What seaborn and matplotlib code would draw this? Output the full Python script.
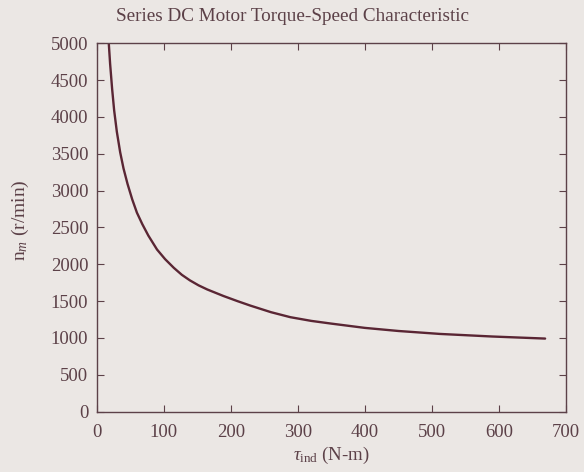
import matplotlib
matplotlib.use("Agg")
import matplotlib.pyplot as plt
import seaborn as sns
import pandas as pd

# Induced torque (N-m) and shaft speed (r/min) of the series DC motor
torque = [18, 20, 23, 26, 30, 35, 40, 46, 53, 60, 68, 77, 90, 102, 115, 127,
          139, 152, 165, 189, 210, 229, 260, 289, 320, 350, 400, 450, 512,
          590, 669]
speed = [5000, 4720, 4380, 4090, 3800, 3520, 3300, 3090, 2880, 2700, 2545,
         2390, 2200, 2070, 1952, 1857, 1782, 1714, 1658, 1570, 1500, 1440,
         1350, 1282, 1232, 1195, 1137, 1095, 1055, 1020, 992]

x_ticks = [0, 100, 200, 300, 400, 500, 600, 700]
y_ticks = [0, 500, 1000, 1500, 2000, 2500, 3000, 3500, 4000, 4500, 5000]

bg = "#ebe7e4"
ink = "#5c4148"
line_color = "#5a2634"

sns.set_theme(style="ticks")
plt.rcParams["font.family"] = ["Liberation Serif", "DejaVu Serif"]
plt.rcParams["mathtext.fontset"] = "custom"
plt.rcParams["mathtext.rm"] = "Liberation Serif"
plt.rcParams["mathtext.it"] = "Liberation Serif:italic"

df = pd.DataFrame({"torque": torque, "speed": speed})

fig = plt.figure(figsize=(5.84, 4.72), dpi=100, facecolor=bg)
ax = fig.add_axes([0.1656, 0.1278, 0.8034, 0.7807], facecolor=bg)

sns.lineplot(data=df, x="torque", y="speed", sort=False, color=line_color,
             linewidth=1.7, ax=ax, solid_joinstyle="round")

ax.set_xlim(0, 700)
ax.set_ylim(0, 5000)
ax.set_xticks(x_ticks)
ax.set_yticks(y_ticks)
ax.tick_params(direction="in", length=5, width=0.8, top=True, right=True,
               colors=ink, labelsize=13.5)
ax.tick_params(axis="x", pad=9)
ax.tick_params(axis="y", pad=6)
for side in ax.spines.values():
    side.set_color(ink)
    side.set_linewidth(1.0)

ax.set_xlabel(r"$\tau_{\mathrm{ind}}$ (N-m)", fontsize=13.5, color=ink,
              labelpad=3)
ax.set_ylabel(r"n$_{m}$ (r/min)", fontsize=14, color=ink)
ax.yaxis.set_label_coords(-0.14, 0.52)
fig.text(0.5, 0.964, "Series DC Motor Torque-Speed Characteristic",
         ha="center", va="center", fontsize=13.8, color=ink)

fig.savefig("out.png", dpi=100, facecolor=bg)
